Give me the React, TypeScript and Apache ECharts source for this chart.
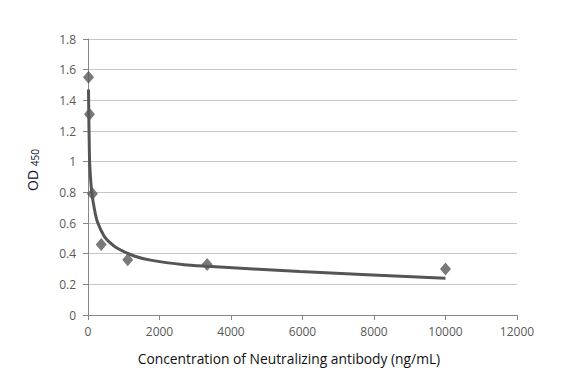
import React, { useEffect, useRef } from "react";
import * as echarts from "echarts";

const concentrations = [13.7, 41, 123, 370, 1111, 3333, 10000];
const odValues = [1.55, 1.31, 0.79, 0.46, 0.36, 0.33, 0.30];

const trendX = [13.7, 41, 75, 112, 180, 260, 448, 600, 820, 1290, 1750, 2690, 3330, 5930, 10000];
const trendY = [1.47, 1.03, 0.88, 0.79, 0.69, 0.61, 0.515, 0.475, 0.435, 0.385, 0.358, 0.328, 0.318, 0.283, 0.24];

const xTitle = "Concentration of Neutralizing antibody (ng/mL)";

export default function App() {
  const ref = useRef<HTMLDivElement>(null);
  useEffect(() => {
    document.body.style.margin = "0";
    if (!ref.current) return;
    const chart = echarts.init(ref.current, undefined, { renderer: "svg" });
    const font = "'Open Sans', 'Liberation Sans', sans-serif";
    chart.setOption({
      animation: false,
      backgroundColor: "#ffffff",
      grid: { left: 88, right: 65, top: 39, bottom: 67, containLabel: false },
      xAxis: {
        type: "value",
        min: 0,
        max: 12000,
        interval: 2000,
        splitLine: { show: false },
        axisLine: { show: true, lineStyle: { color: "#868686", width: 1 } },
        axisTick: { show: true, length: 5, lineStyle: { color: "#868686" } },
        axisLabel: {
          color: "#595959",
          fontSize: 12,
          fontFamily: font,
          margin: 10,
          formatter: (v: number) => String(v),
        },
      },
      yAxis: {
        type: "value",
        min: 0,
        max: 1.8,
        interval: 0.2,
        splitLine: { show: true, lineStyle: { color: "#c6c6c6", width: 1 } },
        axisLine: { show: true, lineStyle: { color: "#868686", width: 1 } },
        axisTick: { show: true, length: 5, lineStyle: { color: "#868686" } },
        axisLabel: {
          color: "#595959",
          fontSize: 12,
          fontFamily: font,
          margin: 12,
          formatter: (v: number) => String(Number(v.toFixed(1))),
        },
      },
      graphic: [
        {
          type: "text",
          x: 289,
          y: 358,
          style: {
            text: xTitle,
            fill: "#111111",
            font: `13.8px ${font}`,
            align: "center",
            verticalAlign: "middle",
          },
        },
        {
          type: "text",
          x: 32,
          y: 170,
          rotation: Math.PI / 2,
          style: {
            text: "{a|OD }{b|450}",
            align: "center",
            verticalAlign: "middle",
            rich: {
              a: { fontSize: 14, fontFamily: font, fill: "#111133", color: "#111133" },
              b: { fontSize: 10, fontFamily: font, fill: "#111133", color: "#111133", padding: [6, 0, 0, 0] },
            },
          },
        },
      ],
      series: [
        {
          type: "line",
          data: trendX.map((x, i) => [x, trendY[i]]),
          smooth: 0.25,
          showSymbol: false,
          symbol: "none",
          lineStyle: { color: "#555555", width: 3 },
          z: 2,
        },
        {
          type: "scatter",
          data: concentrations.map((x, i) => [x, odValues[i]]),
          symbol: "diamond",
          symbolSize: [11, 13],
          itemStyle: { color: "#595959" },
          z: 3,
        },
      ],
    });
    return () => chart.dispose();
  }, []);
  return <div ref={ref} style={{ width: 582, height: 382 }} />;
}
